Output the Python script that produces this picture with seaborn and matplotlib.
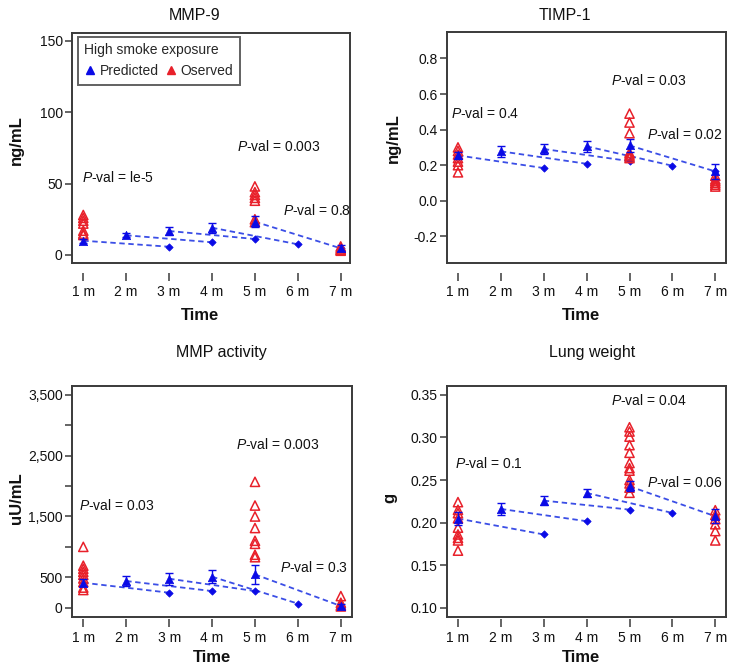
import numpy as np
import pandas as pd
import matplotlib
matplotlib.use("Agg")
import matplotlib.pyplot as plt
import seaborn as sns
from matplotlib.lines import Line2D
from matplotlib.ticker import FixedLocator, FixedFormatter

# ---------------- data ----------------
months = [1, 2, 3, 4, 5, 6, 7]
month_labels = ["1 m", "2 m", "3 m", "4 m", "5 m", "6 m", "7 m"]
pred_times = [1, 2, 3, 4, 5, 7]
fore_times = [3, 4, 5, 6, 7]
obs_times = [1, 5, 7]

# MMP-9
mmp9_pred = [10.0, 13.8, 16.8, 19.1, 23.3, 4.7]
mmp9_err = [1.5, 1.5, 2.5, 3.5, 4.0, 2.0]
mmp9_fore = [5.8, 8.9, 11.2, 7.5, 4.7]
mmp9_obs_1 = [28, 26, 24, 22, 17, 15, 14]
mmp9_obs_5 = [48, 44, 42, 40, 38, 25, 23]
mmp9_obs_7 = [6, 5, 4, 3.5, 3]
mmp9_pvals = ["le-5", "0.003", "0.8"]

# TIMP-1
timp_pred = [0.255, 0.278, 0.291, 0.306, 0.311, 0.165]
timp_err = [0.02, 0.03, 0.03, 0.03, 0.035, 0.04]
timp_fore = [0.184, 0.208, 0.223, 0.197, 0.165]
timp_obs_1 = [0.30, 0.28, 0.26, 0.24, 0.22, 0.20, 0.16]
timp_obs_5 = [0.49, 0.44, 0.38, 0.27, 0.26, 0.25, 0.24]
timp_obs_7 = [0.14, 0.12, 0.11, 0.10, 0.09, 0.08]
timp_pvals = ["0.4", "0.03", "0.02"]

# MMP activity
act_pred = [410, 438, 476, 509, 547, 27]
act_err = [60, 90, 100, 110, 160, 30]
act_fore = [246, 273, 273, 66, 27]
act_obs_1 = [1000, 690, 640, 590, 540, 480, 420, 330, 290]
act_obs_5 = [2070, 1680, 1500, 1310, 1100, 1050, 870, 830]
act_obs_7 = [190, 80, 40, 20]
act_pvals = ["0.03", "0.003", "0.3"]

# Lung weight
lung_pred = [0.2047, 0.216, 0.2258, 0.2348, 0.2426, 0.2074]
lung_err = [0.008, 0.007, 0.005, 0.005, 0.006, 0.008]
lung_fore = [0.186, 0.2016, 0.2152, 0.2113, 0.2074]
lung_obs_1 = [0.224, 0.215, 0.211, 0.205, 0.194, 0.186, 0.182, 0.179, 0.167]
lung_obs_5 = [0.312, 0.307, 0.301, 0.291, 0.282, 0.270, 0.264, 0.261, 0.250, 0.246, 0.241, 0.235]
lung_obs_7 = [0.2145, 0.209, 0.204, 0.198, 0.190, 0.179]
lung_pvals = ["0.1", "0.04", "0.06"]

titles = ["MMP-9", "TIMP-1", "MMP activity", "Lung weight"]
ylabels = ["ng/mL", "ng/mL", "uU/mL", "g"]

# ---------------- style ----------------
sns.set_style("white")
plt.rcParams["font.family"] = ["Liberation Sans", "DejaVu Sans"]
plt.rcParams["mathtext.fontset"] = "custom"
plt.rcParams["mathtext.it"] = "Liberation Sans:italic"
plt.rcParams["mathtext.rm"] = "Liberation Sans"

BLUE = "#0a0ae6"
LINE = "#3b4ee6"
RED = "#e8202a"
BOX = "#3a3a3a"

W, H = 736, 671
fig = plt.figure(figsize=(W / 100, H / 100), dpi=100)


def rect(l, t, r, b):
    return [l / W, 1 - b / H, (r - l) / W, (b - t) / H]


panels = [
    dict(pred=mmp9_pred, err=mmp9_err, fore=mmp9_fore,
         obs=[mmp9_obs_1, mmp9_obs_5, mmp9_obs_7], pv=mmp9_pvals,
         rect=rect(72, 33, 350, 263), xlim=(0.737, 7.217), ylim=(-5.6, 155.4),
         yticks=[0, 50, 100, 150], ytl=["0", "50", "100", "150"],
         pvpos=[(0.98, 53.9), (4.59, 75.8), (5.65, 31)], xoff=10,
         title=(195, 15), xlab=(200, 315), ylab=(16, 140)),
    dict(pred=timp_pred, err=timp_err, fore=timp_fore,
         obs=[timp_obs_1, timp_obs_5, timp_obs_7], pv=timp_pvals,
         rect=rect(447, 32, 726, 263), xlim=(0.744, 7.25), ylim=(-0.35, 0.949),
         yticks=[-0.2, 0.0, 0.2, 0.4, 0.6, 0.8],
         ytl=["-0.2", "0.0", "0.2", "0.4", "0.6", "0.8"],
         pvpos=[(0.83, 0.488), (4.56, 0.675), (5.41, 0.371)], xoff=10,
         title=(565, 15), xlab=(581, 315), ylab=(393, 138)),
    dict(pred=act_pred, err=act_err, fore=act_fore,
         obs=[act_obs_1, act_obs_5, act_obs_7], pv=act_pvals,
         rect=rect(72, 386, 352, 617), xlim=(0.737, 7.26), ylim=(-154, 3647),
         yticks=[0, 500, 1000, 1500, 2000, 2500, 3000, 3500],
         ytl=["0", "500", "", "1,500", "", "2,500", "", "3,500"],
         pvpos=[(0.9, 1682), (4.56, 2677), (5.59, 656)], xoff=2,
         title=(221, 353), xlab=(212, 657), ylab=(16, 498)),
    dict(pred=lung_pred, err=lung_err, fore=lung_fore,
         obs=[lung_obs_1, lung_obs_5, lung_obs_7], pv=lung_pvals,
         rect=rect(447, 386, 726, 617), xlim=(0.744, 7.25), ylim=(0.089, 0.3605),
         yticks=[0.10, 0.15, 0.20, 0.25, 0.30, 0.35],
         ytl=["0.10", "0.15", "0.20", "0.25", "0.30", "0.35"],
         pvpos=[(0.92, 0.270), (4.56, 0.344), (5.41, 0.2465)], xoff=2,
         title=(592, 353), xlab=(581, 657), ylab=(390, 498)),
]

for i, p in enumerate(panels):
    ax = fig.add_axes(p["rect"])
    ax.set_facecolor("white")

    # dashed forecast segments: prediction at t -> forecast at t+2
    rows = []
    for k in range(5):
        rows.append((k, pred_times[k], p["pred"][k]))
        rows.append((k, fore_times[k], p["fore"][k]))
    seg = pd.DataFrame(rows, columns=["seg", "t", "v"])
    sns.lineplot(data=seg, x="t", y="v", units="seg", estimator=None, ax=ax,
                 color=LINE, linestyle=(0, (3, 2)), linewidth=1.3,
                 legend=False, sort=False)

    # forecast diamonds
    fdf = pd.DataFrame({"t": fore_times, "v": p["fore"]})
    sns.scatterplot(data=fdf, x="t", y="v", ax=ax, marker="D", s=14,
                    color=BLUE, edgecolor=BLUE, linewidth=0.5, zorder=3)

    # observed (open red triangles)
    orows = []
    for t, vals in zip(obs_times, p["obs"]):
        for v in vals:
            orows.append((t, v))
    odf = pd.DataFrame(orows, columns=["t", "v"])
    sns.scatterplot(data=odf, x="t", y="v", ax=ax, marker="^", s=44,
                    color=RED, edgecolor=RED, linewidth=1.1, zorder=4)
    ax.collections[-1].set_facecolor("none")

    # predicted (filled blue triangles with error bars)
    pdf = pd.DataFrame({"t": pred_times, "v": p["pred"], "e": p["err"]})
    ax.errorbar(pdf["t"], pdf["v"], yerr=pdf["e"], fmt="none", ecolor=BLUE,
                elinewidth=1.0, capsize=3.2, capthick=1.0, zorder=5)
    sns.scatterplot(data=pdf, x="t", y="v", ax=ax, marker="^", s=36,
                    color=BLUE, edgecolor=BLUE, linewidth=0.5, zorder=6)

    # p-value labels
    for txt, (xx, yy) in zip(p["pv"], p["pvpos"]):
        ax.text(xx, yy, r"$\mathit{P}$-val = " + txt, fontsize=10,
                ha="left", va="center", color="#111111", zorder=7)

    ax.set_xlim(*p["xlim"])
    ax.set_ylim(*p["ylim"])
    ax.set_xlabel("")
    ax.set_ylabel("")

    # y axis
    ax.yaxis.set_major_locator(FixedLocator(p["yticks"]))
    ax.yaxis.set_major_formatter(FixedFormatter(p["ytl"]))
    ax.tick_params(axis="y", left=True, direction="out", length=5.2,
                   width=1.1, color=BOX, labelsize=10, pad=1.5,
                   labelcolor="#111111")

    # x axis: detached ticks via secondary axis
    ax.tick_params(axis="x", bottom=False, labelbottom=False)
    off = -p["xoff"] / (p["rect"][3] * H)
    sec = ax.secondary_xaxis(off)
    sec.set_xticks(months)
    sec.set_xticklabels(month_labels)
    for s in sec.spines.values():
        s.set_visible(False)
    sec.tick_params(axis="x", direction="out", length=5.5, width=1.1,
                    color=BOX, labelsize=10, pad=3, labelcolor="#111111")

    for s in ax.spines.values():
        s.set_visible(True)
        s.set_color(BOX)
        s.set_linewidth(1.4)

    fig.text(p["title"][0] / W, 1 - p["title"][1] / H, titles[i],
             fontsize=11.5, ha="center", va="center", color="#111111")
    fig.text(p["xlab"][0] / W, 1 - p["xlab"][1] / H, "Time", fontsize=12,
             fontweight="bold", ha="center", va="center", color="#111111")
    fig.text(p["ylab"][0] / W, 1 - p["ylab"][1] / H, ylabels[i], fontsize=12,
             fontweight="bold", ha="center", va="center", rotation=90,
             color="#111111")

    if i == 0:
        handles = [
            Line2D([], [], marker="^", linestyle="none", color=BLUE,
                   markersize=6, label="Predicted"),
            Line2D([], [], marker="^", linestyle="none", color=RED,
                   markersize=6, label="Oserved"),
        ]
        leg = ax.legend(handles=handles, title="High smoke exposure", ncol=2,
                        loc="upper left", bbox_to_anchor=(0.022, 0.982),
                        fontsize=10, title_fontsize=10, frameon=True,
                        fancybox=False, handlelength=0.8, handletextpad=0.3,
                        columnspacing=0.5, borderpad=0.45, borderaxespad=0)
        leg._legend_box.align = "left"
        leg.get_frame().set_edgecolor(BOX)
        leg.get_frame().set_linewidth(1.4)

fig.savefig("out.png", dpi=100)
